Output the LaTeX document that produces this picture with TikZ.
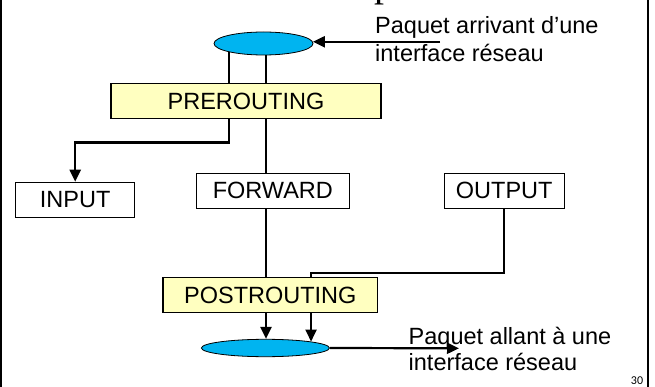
\documentclass[tikz,border=0pt]{standalone}
\usepackage{fontspec}
\setmainfont{Liberation Sans}
\newfontfamily\headfont{Liberation Serif}
\newfontfamily\pagenumfont{Carlito}
\usetikzlibrary{arrows.meta,backgrounds,shapes.geometric}
\definecolor{chainfill}{RGB}{255,255,192}
\definecolor{portfill}{RGB}{0,180,240}

\begin{document}
\begin{tikzpicture}[x=1pt,y=-1pt,
  boxtext/.style={font=\fontsize{23.5}{28}\selectfont},
  chainbox/.style={boxtext,draw=black,line width=1.1pt,fill=chainfill,inner sep=0pt},
  plainbox/.style={boxtext,draw=black,line width=1.1pt,fill=white,inner sep=0pt},
  port/.style={ellipse,draw=black,line width=0.8pt,fill=portfill,inner sep=0pt},
  conn/.style={line width=2.2pt},
  arr/.style={conn,-{Triangle[length=12pt,width=11pt]}},
  notetext/.style={boxtext,inner sep=0pt,anchor=base west}
]
\useasboundingbox (0,0) rectangle (655,387);

% slide frame and the foot of the title
\draw[line width=2pt] (1,0) -- (1,387);
\draw[line width=2.4pt] (648,0) -- (648,387);
\node[font=\headfont\fontsize{40}{40}\selectfont,inner sep=0pt,anchor=base west] (titlefoot) at (374,-3.7) {p};

% network ports
\node[port,minimum width=99pt,minimum height=23pt] (topell) at (263.5,43.5) {};
\node[port,minimum width=128pt,minimum height=17.4pt] (botell) at (265.4,348) {};

% netfilter chains
\node[chainbox,minimum width=270pt,minimum height=34.5pt] (pre) at (246,101) {PREROUTING};
\node[plainbox,minimum width=119pt,minimum height=35.4pt] (input) at (75.2,200) {INPUT};
\node[plainbox,minimum width=153pt,minimum height=35pt] (forward) at (272.8,190.8) {FORWARD};
\node[plainbox,minimum width=120pt,minimum height=35pt] (output) at (504.2,190.8) {OUTPUT};
\node[chainbox,minimum width=214.7pt,minimum height=34.6pt] (post) at (270.3,295) {POSTROUTING};

% captions
\node[notetext] (inNoteA) at (375,34) {Paquet arrivant d’une};
\node[notetext] (inNoteB) at (375,61.5) {interface réseau};
\node[notetext] (outNoteA) at (408.5,344) {Paquet allant à une};
\node[notetext] (outNoteB) at (408.5,370.7) {interface réseau};
\node[font=\pagenumfont\fontsize{12}{12}\selectfont,inner sep=0pt,anchor=base east] (pagenum) at (643.3,384.5) {30};

% helper points for the routes
\coordinate (bendIn) at (229,142.5);
\coordinate (laneB) at (266,0);
\coordinate (outBend) at (0,273.3);
\coordinate (inTail) at (440,0);
\coordinate (outTip) at (459,348.3);

\begin{pgfonlayer}{background}
  \draw[arr] (topell.center -| bendIn) -- (bendIn) -| (input.north);
  \draw[arr] (topell.center -| laneB) -- (botell.north -| laneB);
  \draw[arr] (output.south) |- (botell.8 |- outBend) -- (botell.8);
\end{pgfonlayer}
\draw[arr] (inTail |- topell.2) -- (topell.2);
\draw[arr] (botell.east) -- (outTip);
\end{tikzpicture}
\end{document}
